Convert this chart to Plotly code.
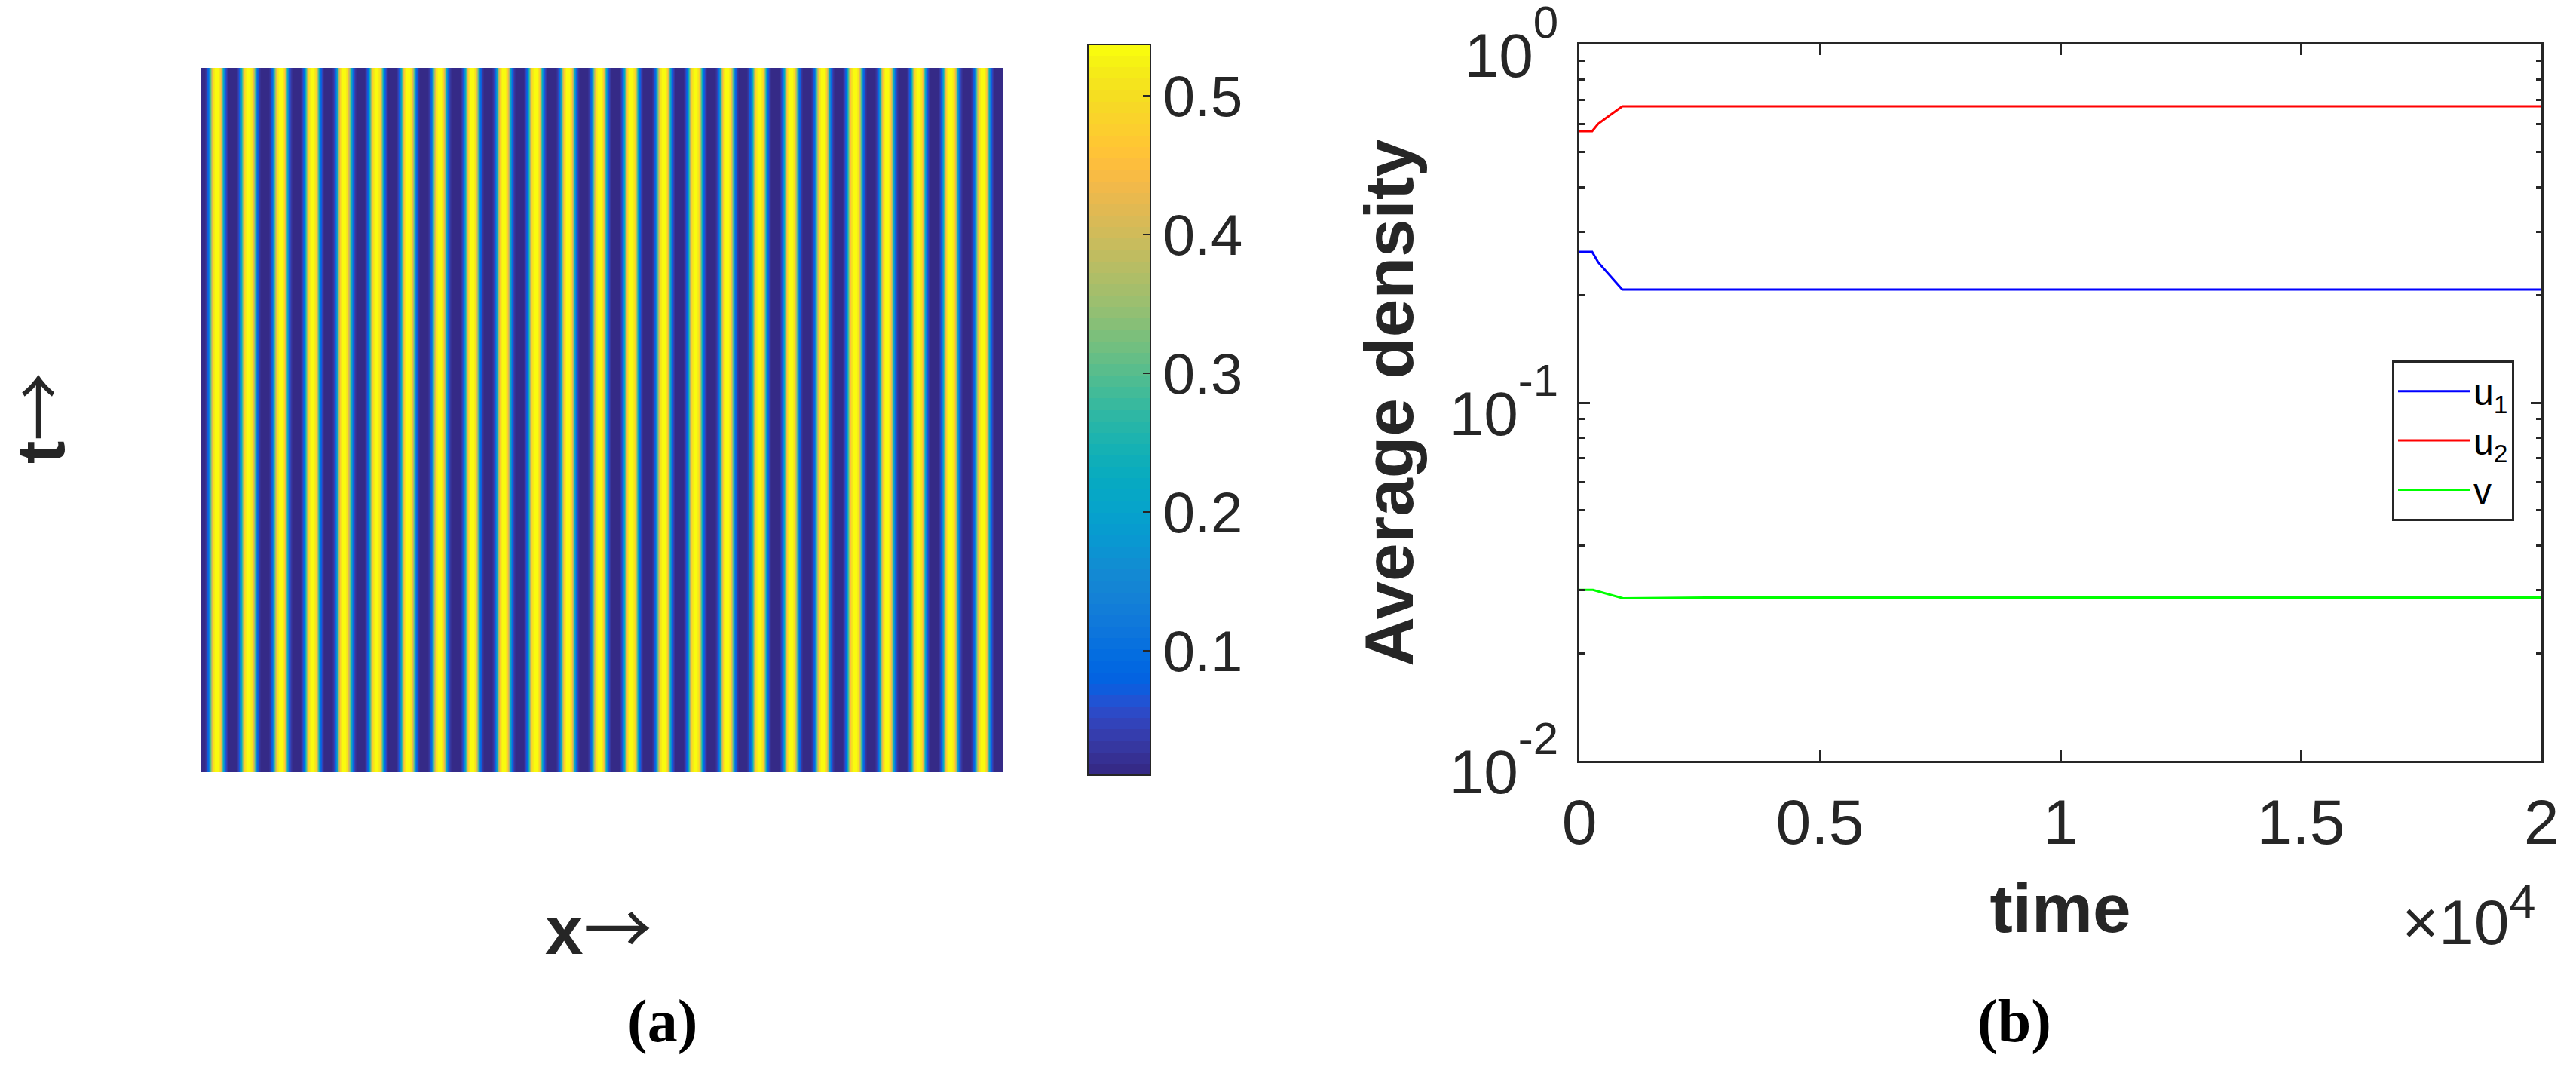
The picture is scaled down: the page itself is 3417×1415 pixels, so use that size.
"""
Stationary stripe pattern (a) and average densities over time (b)
"""
import plotly.graph_objects as go

WIDTH = 3417
HEIGHT = 1415
INK = '#262626'
SANS = 'Liberation Sans'

# one stripe of the pattern, read across a period from trough to trough
stripe = [0.0103, 0.014, 0.03, 0.11, 0.33, 0.50, 0.535,
          0.535, 0.50, 0.33, 0.11, 0.03, 0.014, 0.0103]
stripe_count = 25
t_rows = [0, 1]

colorbar_ticks = [0.1, 0.2, 0.3, 0.4, 0.5]
z_min = 0.0103
z_max = 0.537

# average densities
time_u = [0, 266, 392, 893, 20000]
u1 = [0.2636, 0.2636, 0.2464, 0.207, 0.207]
u2 = [0.573, 0.573, 0.601, 0.672, 0.672]
time_v = [0, 282, 909, 2630, 20000]
v = [0.0300, 0.0300, 0.02844, 0.02857, 0.02857]

x_ticks = [0, 5000, 10000, 15000, 20000]
x_labels = ['0', '0.5', '1', '1.5', '2']
y_ticks = [0.01, 0.1, 1]
y_exponents = ['-2', '-1', '0']
y_minor = [0.02, 0.03, 0.04, 0.05, 0.06, 0.07, 0.08, 0.09,
           0.2, 0.3, 0.4, 0.5, 0.6, 0.7, 0.8, 0.9]

parula = [
    (0.2081, 0.1663, 0.5292), (0.2116, 0.1898, 0.5777), (0.2123, 0.2138, 0.6270), (0.2081, 0.2386, 0.6771),
    (0.1959, 0.2645, 0.7279), (0.1707, 0.2919, 0.7792), (0.1253, 0.3242, 0.8303), (0.0591, 0.3598, 0.8683),
    (0.0117, 0.3875, 0.8820), (0.0060, 0.4086, 0.8828), (0.0165, 0.4266, 0.8786), (0.0329, 0.4430, 0.8720),
    (0.0498, 0.4586, 0.8641), (0.0629, 0.4737, 0.8554), (0.0723, 0.4887, 0.8467), (0.0779, 0.5040, 0.8384),
    (0.0793, 0.5200, 0.8312), (0.0749, 0.5375, 0.8263), (0.0641, 0.5570, 0.8240), (0.0488, 0.5772, 0.8228),
    (0.0343, 0.5966, 0.8199), (0.0265, 0.6137, 0.8135), (0.0239, 0.6287, 0.8038), (0.0231, 0.6418, 0.7913),
    (0.0228, 0.6535, 0.7768), (0.0267, 0.6642, 0.7607), (0.0384, 0.6743, 0.7436), (0.0590, 0.6838, 0.7254),
    (0.0843, 0.6928, 0.7062), (0.1133, 0.7015, 0.6859), (0.1453, 0.7098, 0.6646), (0.1801, 0.7177, 0.6424),
    (0.2178, 0.7250, 0.6193), (0.2586, 0.7317, 0.5954), (0.3022, 0.7376, 0.5712), (0.3482, 0.7424, 0.5473),
    (0.3953, 0.7459, 0.5244), (0.4420, 0.7481, 0.5033), (0.4871, 0.7491, 0.4840), (0.5300, 0.7491, 0.4661),
    (0.5709, 0.7485, 0.4494), (0.6099, 0.7473, 0.4337), (0.6473, 0.7456, 0.4188), (0.6834, 0.7435, 0.4044),
    (0.7184, 0.7411, 0.3905), (0.7525, 0.7384, 0.3768), (0.7858, 0.7356, 0.3633), (0.8185, 0.7327, 0.3498),
    (0.8507, 0.7299, 0.3360), (0.8824, 0.7274, 0.3217), (0.9139, 0.7258, 0.3063), (0.9450, 0.7261, 0.2886),
    (0.9739, 0.7314, 0.2666), (0.9938, 0.7455, 0.2403), (0.9990, 0.7653, 0.2164), (0.9955, 0.7861, 0.1967),
    (0.9880, 0.8066, 0.1794), (0.9789, 0.8271, 0.1633), (0.9697, 0.8481, 0.1475), (0.9626, 0.8705, 0.1309),
    (0.9589, 0.8949, 0.1132), (0.9598, 0.9218, 0.0948), (0.9661, 0.9514, 0.0755), (0.9763, 0.9831, 0.0538),
]


def px_x(x):
    return x / WIDTH


def px_y(y):
    return 1 - y / HEIGHT


def power_label(base_size, exponent, exponent_size=60):
    # the axis font stays larger than the digits: plotly centres labels from it,
    # and MATLAB hangs these powers lower and lifts the exponent higher
    return (f'<span style="font-size:{base_size}px">10</span>'
            f'<sup><span style="font-size:{exponent_size}px">{exponent}</span></sup>')


# MATLAB colormaps are stepped, so give every colour its own band
colorscale = []
for i, (r, g, b) in enumerate(parula):
    colour = f'rgb({r * 255:.0f},{g * 255:.0f},{b * 255:.0f})'
    colorscale.append([i / len(parula), colour])
    colorscale.append([(i + 1) / len(parula), colour])

row = stripe * stripe_count + stripe[:2]

fig = go.Figure()

fig.add_trace(go.Heatmap(
    z=[row for _ in t_rows],
    y=t_rows,
    zmin=z_min,
    zmax=z_max,
    zsmooth='best',
    colorscale=colorscale,
    xaxis='x',
    yaxis='y',
    showscale=True,
    colorbar=dict(
        x=px_x(1443), xanchor='left', xpad=0,
        y=px_y(1028), yanchor='bottom', ypad=0,
        len=969 / HEIGHT, lenmode='fraction',
        thickness=83, thicknessmode='pixels',
        outlinecolor=INK, outlinewidth=2,
        ticks='inside', ticklen=11, tickwidth=2, tickcolor=INK,
        tickmode='array', tickvals=colorbar_ticks,
        ticktext=[f'{t:.1f}' for t in colorbar_ticks],
        tickfont=dict(family=SANS, size=76, color=INK),
    ),
))

for name, t, y, colour in [
    ('u<sub>1</sub>', time_u, u1, '#0000ff'),
    ('u<sub>2</sub>', time_u, u2, '#ff0000'),
    ('v', time_v, v, '#00ff00'),
]:
    fig.add_trace(go.Scatter(
        x=t, y=y, name=name, mode='lines',
        line=dict(color=colour, width=3),
        xaxis='x2', yaxis='y2',
    ))

fig.update_layout(
    width=WIDTH,
    height=HEIGHT,
    margin=dict(l=0, r=0, t=0, b=0, autoexpand=False),
    paper_bgcolor='white',
    plot_bgcolor='white',
    showlegend=True,
    legend=dict(
        x=px_x(3173), xanchor='left',
        y=px_y(478), yanchor='top',
        bordercolor=INK, borderwidth=3,
        bgcolor='white',
        itemwidth=95,
        entrywidth=54, entrywidthmode='pixels',
        font=dict(family=SANS, size=48, color='black'),
    ),
    xaxis=dict(
        domain=[px_x(266), px_x(1330)],
        range=[-0.5, len(row) - 0.5],
        visible=False,
    ),
    yaxis=dict(
        domain=[px_y(1024), px_y(90)],
        range=[-0.5, 1.5],
        visible=False,
    ),
    xaxis2=dict(
        domain=[px_x(2095), px_x(3371)],
        range=[0, 20000],
        anchor='y2',
        showline=True, linecolor=INK, linewidth=3, mirror='ticks',
        ticks='inside', ticklen=14, tickwidth=3, tickcolor=INK,
        tickmode='array', tickvals=x_ticks, ticktext=x_labels,
        tickfont=dict(family=SANS, size=84, color=INK),
        ticklabelstandoff=6,
        showgrid=False, zeroline=False,
        title=dict(text='<b>time</b>', font=dict(family=SANS, size=91, color=INK), standoff=37),
    ),
    yaxis2=dict(
        domain=[px_y(1009), px_y(59)],
        type='log',
        range=[-2, 0],
        anchor='x2',
        showline=True, linecolor=INK, linewidth=3, mirror='ticks',
        ticks='inside', ticklen=14, tickwidth=3, tickcolor=INK,
        tickmode='array', tickvals=y_ticks,
        ticktext=[power_label(82, e) for e in y_exponents],
        tickfont=dict(family=SANS, size=124, color=INK),
        ticklabelstandoff=0,
        ticklabeloverflow='allow',
        showgrid=False, zeroline=False,
        minor=dict(ticks='inside', ticklen=7, tickwidth=3, tickcolor=INK,
                   tickmode='array', tickvals=y_minor, showgrid=False),
        title=dict(text='<b>Average density</b>', font=dict(family=SANS, size=91, color=INK), standoff=18),
    ),
)

arrow = '<span style="font-family:Noto Sans CJK JP;font-weight:normal">\u2192</span>'
notes = [
    dict(text=f'<b>x</b>{arrow}', x=794, y=1225, size=91, font=SANS, angle=0, colour=INK),
    dict(text=f'<b>t</b>{arrow}', x=45, y=555, size=91, font=SANS, angle=-90, colour=INK),
    dict(text='\u00d710<sup><span style="font-size:63px">4</span></sup>', x=3275, y=1215, size=84, font=SANS, angle=0, colour=INK),
    dict(text='<b>(a)</b>', x=879, y=1354, size=80, font='Liberation Serif', angle=0, colour='black'),
    dict(text='<b>(b)</b>', x=2672, y=1354, size=80, font='Liberation Serif', angle=0, colour='black'),
]
for note in notes:
    fig.add_annotation(
        text=note['text'],
        x=px_x(note['x']), y=px_y(note['y']),
        xref='paper', yref='paper',
        xanchor='center', yanchor='middle',
        textangle=note['angle'],
        showarrow=False,
        font=dict(family=note['font'], size=note['size'], color=note['colour']),
    )

fig.write_html("out.html", config={'displayModeBar': False}, post_script="document.body.style.margin='0';")
